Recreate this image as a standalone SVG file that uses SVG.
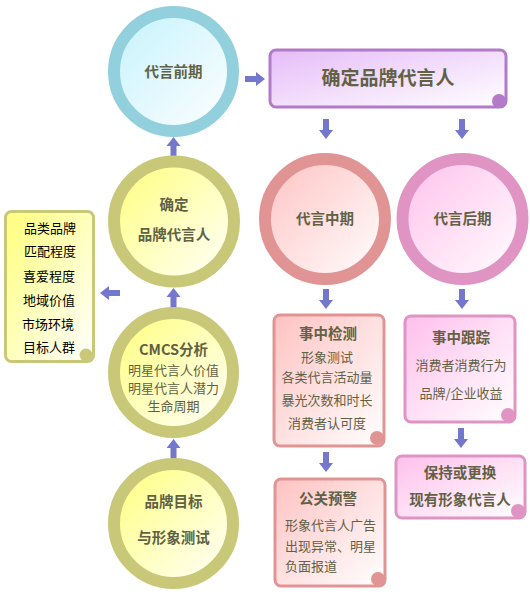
<svg xmlns="http://www.w3.org/2000/svg" xmlns:xlink="http://www.w3.org/1999/xlink" width="530" height="600" viewBox="0 0 530 600">
<defs>
<linearGradient id="gBlue" x1="0" y1="0" x2="1" y2="1"><stop offset="0" stop-color="#c4f2fc"/><stop offset="1" stop-color="#ffffff"/></linearGradient>
<linearGradient id="gYel" x1="0" y1="0" x2="1" y2="1"><stop offset="0.1" stop-color="#ffff88"/><stop offset="1" stop-color="#ffffff"/></linearGradient>
<linearGradient id="gSal" x1="0" y1="0" x2="1" y2="1"><stop offset="0" stop-color="#ffc2c2"/><stop offset="1" stop-color="#ffffff"/></linearGradient>
<linearGradient id="gPink" x1="0" y1="0" x2="1" y2="1"><stop offset="0" stop-color="#ffc0ec"/><stop offset="1" stop-color="#ffffff"/></linearGradient>
<linearGradient id="gPur" x1="0" y1="0" x2="1" y2="1"><stop offset="0" stop-color="#e6bcf8"/><stop offset="1" stop-color="#ffffff"/></linearGradient>
<path id="ad" d="M-3,0 H3 V11 H7 L0,20 L-7,11 H-3 Z" fill="#7478cc"/>
</defs>
<style>
text{font-family:"Noto Sans CJK SC","Liberation Sans",sans-serif;fill:#616145;}
.t{font-size:14.5px;font-weight:bold;text-anchor:middle;}
.n{font-size:13px;text-anchor:middle;}
.l{font-size:13px;fill:#000;}
.ringB{fill:url(#gBlue);stroke:#93d0de;stroke-width:12;}
.ringY{fill:url(#gYel);stroke:#c9c879;stroke-width:12;}
.ringS{fill:url(#gSal);stroke:#e19494;stroke-width:12;}
.ringP{fill:url(#gPink);stroke:#e094c4;stroke-width:12;}
.bS{fill:url(#gSal);stroke:#e19494;stroke-width:3;}
.bP{fill:url(#gPink);stroke:#e094c4;stroke-width:3;}
</style>
<rect width="530" height="600" fill="#ffffff"/>
<g id="connectors">
<use xlink:href="#ad" transform="translate(245,79) rotate(-90)"/>
<use xlink:href="#ad" transform="translate(326,119)"/>
<use xlink:href="#ad" transform="translate(462,119)"/>
<use xlink:href="#ad" transform="translate(173.5,157) rotate(180)"/>
<use xlink:href="#ad" transform="translate(173.5,308) rotate(180)"/>
<use xlink:href="#ad" transform="translate(173.5,459) rotate(180)"/>
<use xlink:href="#ad" transform="translate(120,293) rotate(90)"/>
<use xlink:href="#ad" transform="translate(326,289)"/>
<use xlink:href="#ad" transform="translate(462,289)"/>
<use xlink:href="#ad" transform="translate(326,452)"/>
<use xlink:href="#ad" transform="translate(461,428)"/>
</g>
<g id="pre">
<circle cx="173.5" cy="71.5" r="59.5" class="ringB"/>
<text x="173.5" y="76.5" class="t">代言前期</text>
</g>
<g id="confirm-box">
<rect x="270" y="50" width="236" height="57" rx="6" fill="url(#gPur)" stroke="#b27ac8" stroke-width="3"/>
<circle cx="499" cy="101" r="7" fill="#b27ac8"/>
<text x="388" y="85" class="t" style="font-size:19px">确定品牌代言人</text>
</g>
<g id="confirm">
<circle cx="174" cy="221.5" r="60" class="ringY"/>
<text x="174" y="210" class="t">确定</text>
<text x="174" y="240" class="t">品牌代言人</text>
</g>
<g id="cmcs">
<circle cx="173.5" cy="372.5" r="59.5" class="ringY"/>
<text x="173.5" y="354.5" class="t">CMCS分析</text>
<text x="173.5" y="375" class="n">明星代言人价值</text>
<text x="173.5" y="392.5" class="n">明星代言人潜力</text>
<text x="173.5" y="411" class="n">生命周期</text>
</g>
<g id="goal">
<circle cx="173.5" cy="523.5" r="59.5" class="ringY"/>
<text x="173.5" y="507" class="t">品牌目标</text>
<text x="173.5" y="543" class="t">与形象测试</text>
</g>
<g id="factors">
<rect x="5.5" y="211.5" width="88" height="150" rx="6" fill="url(#gYel)" stroke="#c9c879" stroke-width="3"/>
<circle cx="86" cy="355" r="6.5" fill="#c9c879"/>
<text x="24" y="233" class="l">品类品牌</text>
<text x="24" y="256" class="l">匹配程度</text>
<text x="23" y="281" class="l">喜爱程度</text>
<text x="23" y="305" class="l">地域价值</text>
<text x="22" y="329" class="l">市场环境</text>
<text x="23" y="352" class="l">目标人群</text>
</g>
<g id="mid">
<circle cx="325" cy="219" r="60" class="ringS"/>
<text x="325" y="224" class="t">代言中期</text>
</g>
<g id="post">
<circle cx="462.5" cy="219" r="60" class="ringP"/>
<text x="462.5" y="224" class="t">代言后期</text>
</g>
<g id="check">
<rect x="274" y="315" width="110" height="131" rx="6" class="bS"/>
<circle cx="377" cy="438" r="7" fill="#e19494"/>
<text x="328" y="339" class="t">事中检测</text>
<text x="327" y="362" class="n">形象测试</text>
<text x="327" y="382" class="n">各类代言活动量</text>
<text x="327" y="405" class="n">暴光次数和时长</text>
<text x="327" y="428" class="n">消费者认可度</text>
</g>
<g id="track">
<rect x="405" y="316" width="110" height="106" rx="6" class="bP"/>
<circle cx="508" cy="415" r="7" fill="#e094c4"/>
<text x="461" y="343" class="t">事中跟踪</text>
<text x="461" y="370" class="n">消费者消费行为</text>
<text x="461" y="398" class="n">品牌/企业收益</text>
</g>
<g id="pr">
<rect x="275" y="479" width="110" height="107" rx="6" class="bS"/>
<circle cx="378" cy="579" r="7" fill="#e19494"/>
<text x="328" y="504" class="t">公关预警</text>
<text x="285" y="530" class="n" style="text-anchor:start">形象代言人广告</text>
<text x="285" y="551" class="n" style="text-anchor:start">出现异常、明星</text>
<text x="285" y="571" class="n" style="text-anchor:start">负面报道</text>
</g>
<g id="keep">
<rect x="396" y="456" width="129" height="62" rx="6" class="bP"/>
<circle cx="518" cy="511" r="7" fill="#e094c4"/>
<text x="460" y="478" class="t">保持或更换</text>
<text x="460" y="505" class="t">现有形象代言人</text>
</g>
</svg>
